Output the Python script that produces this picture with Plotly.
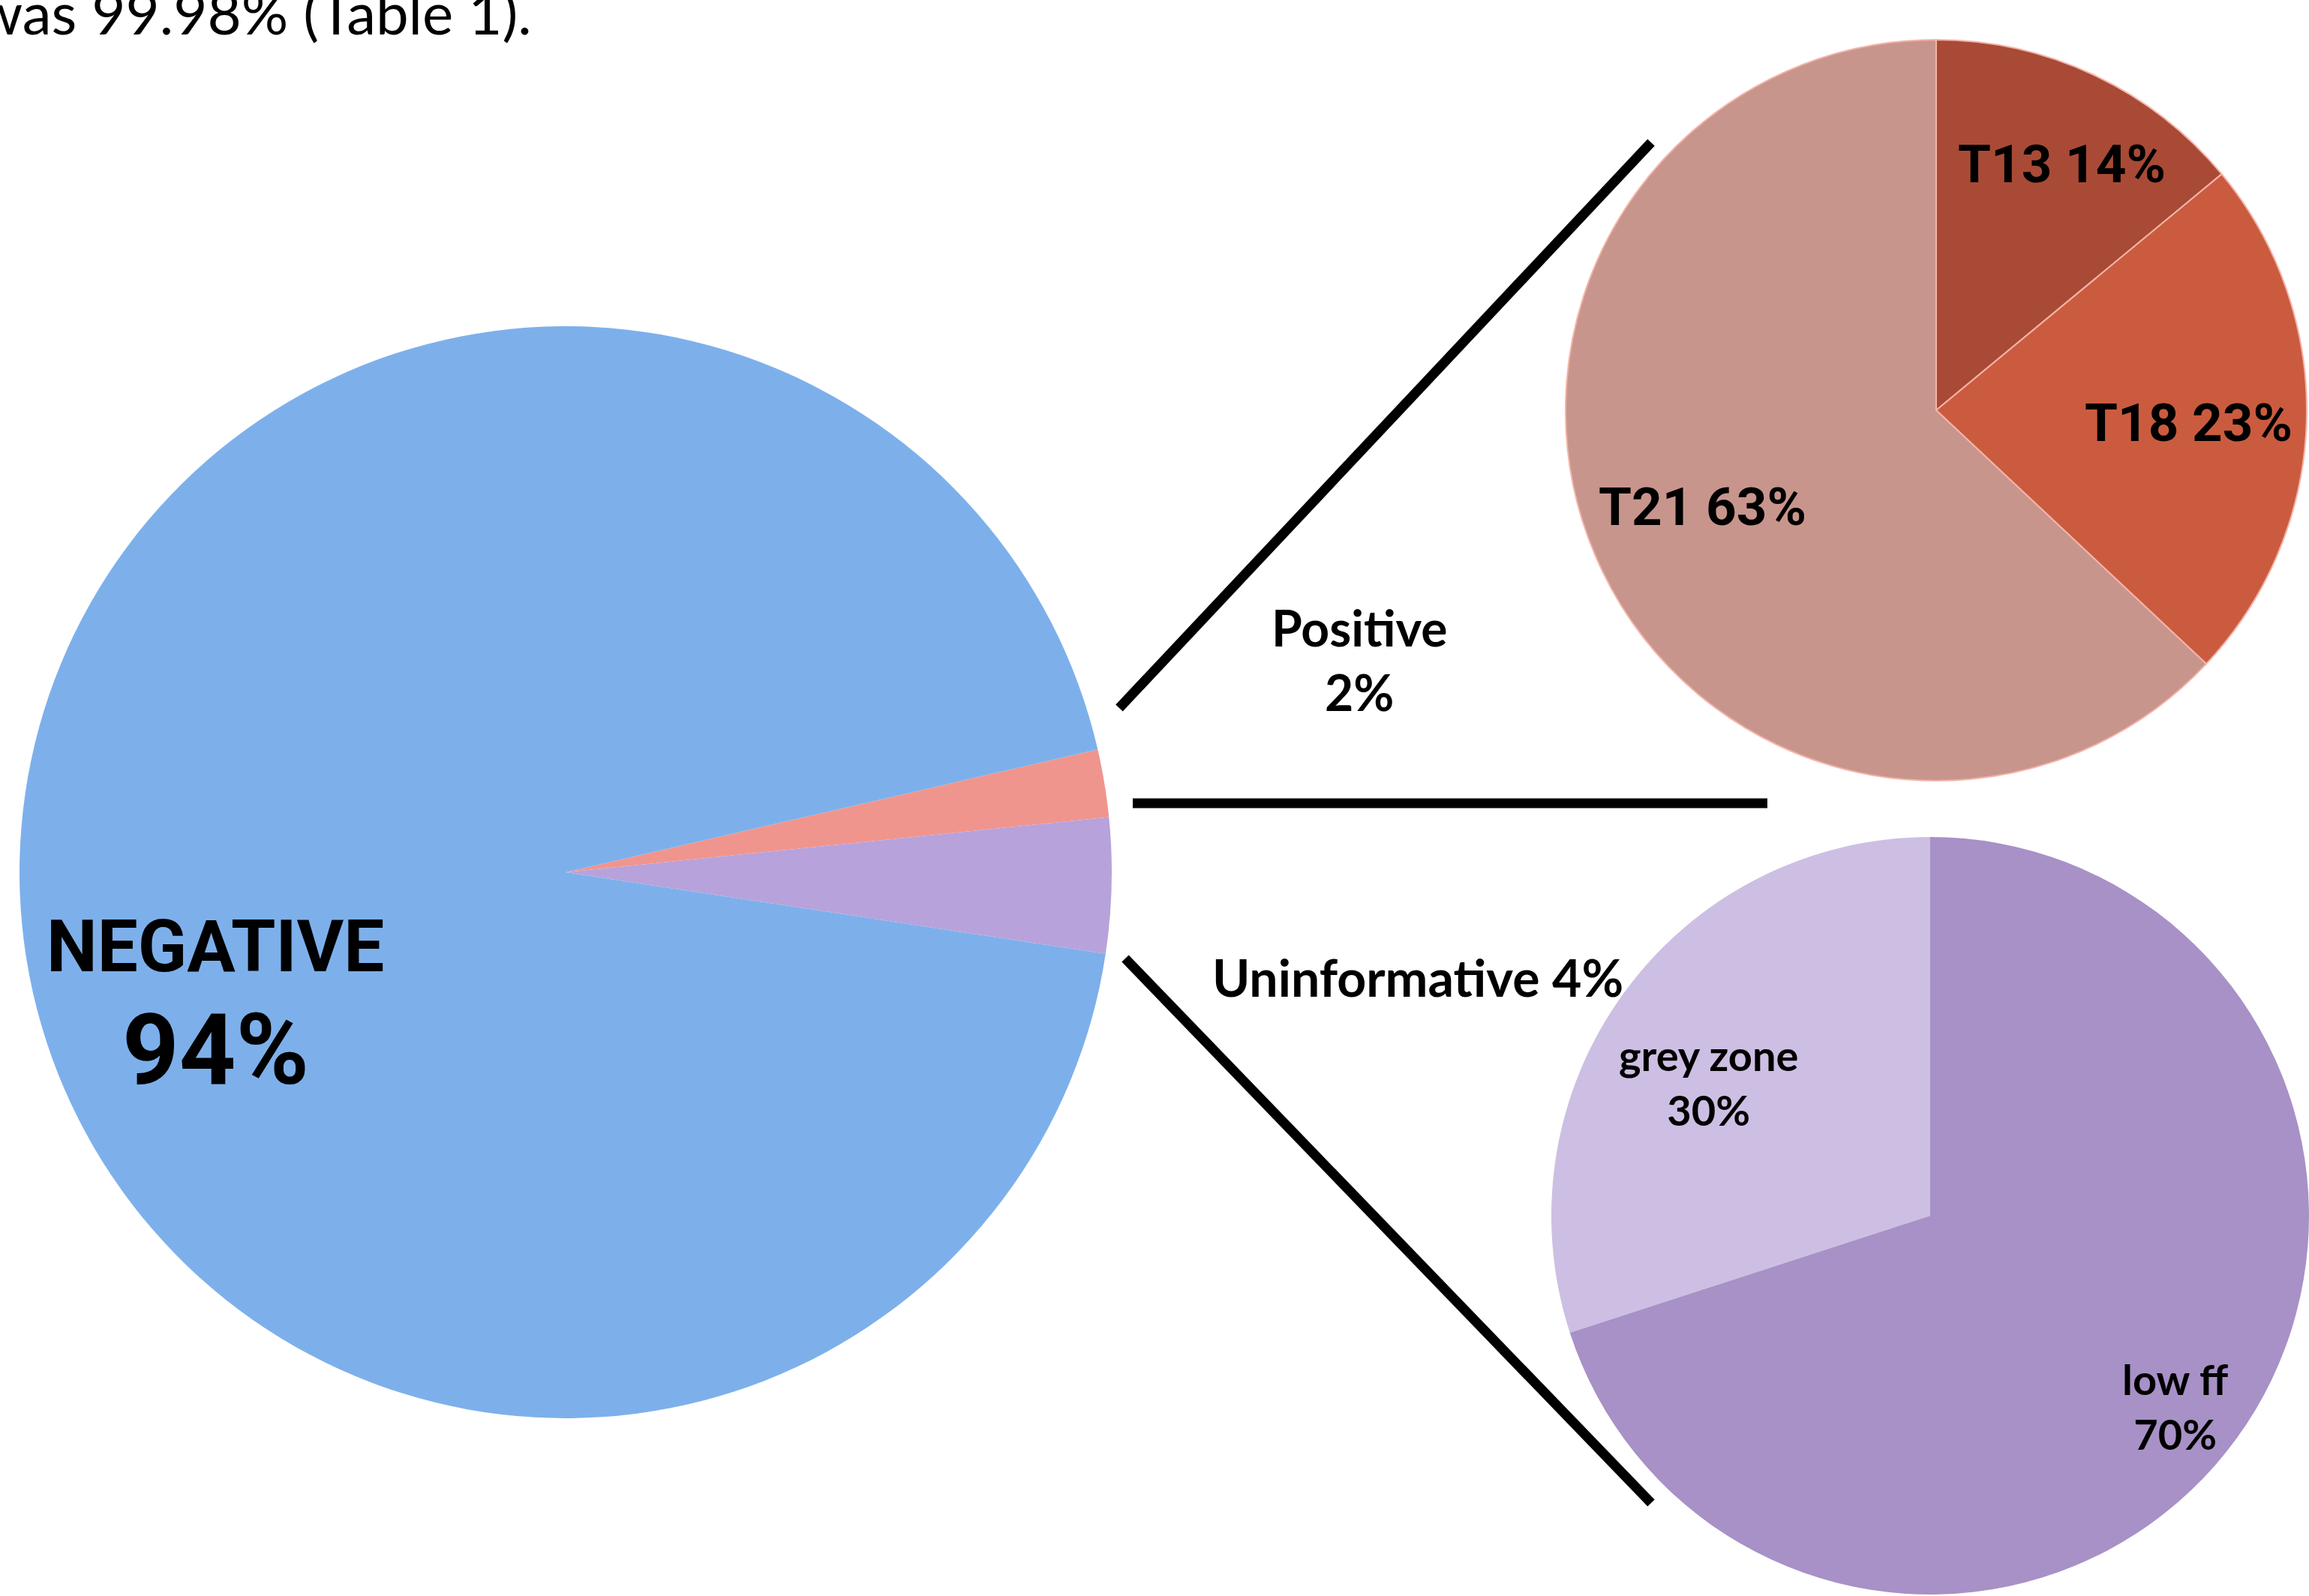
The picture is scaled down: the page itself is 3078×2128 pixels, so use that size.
import plotly.graph_objects as go

W, H = 3078, 2128

# Overall screening outcome
main_labels = ["Positive", "Uninformative", "NEGATIVE"]
main_values = [2, 4, 94]
main_colors = ["#f0958e", "#b8a2db", "#7db0eb"]

# Breakdown of positive results
pos_labels = ["T13", "T18", "T21"]
pos_values = [14, 23, 63]
pos_colors = ["#a94a36", "#cb5b3f", "#c8958d"]

# Breakdown of uninformative results
uninf_labels = ["grey zone", "low ff"]
uninf_values = [30, 70]
uninf_colors = ["#cdbfe3", "#a791c6"]


def fx(x):
    return x / W


def fy(y):
    return 1 - y / H


def circle_domain(cx, cy, r):
    return dict(x=[fx(cx - r), fx(cx + r)], y=[fy(cy + r), fy(cy - r)])


fig = go.Figure()

fig.add_trace(go.Pie(
    labels=main_labels, values=main_values, sort=False,
    direction="clockwise", rotation=77,
    marker=dict(colors=main_colors, line=dict(width=0)),
    textinfo="none", hoverinfo="label+percent",
    domain=circle_domain(754, 1163, 728),
))

fig.add_trace(go.Pie(
    labels=pos_labels, values=pos_values, sort=False,
    direction="clockwise", rotation=0,
    marker=dict(colors=pos_colors, line=dict(width=2, color="#f3b4a8")),
    textinfo="none", hoverinfo="label+percent",
    domain=circle_domain(2581, 547, 494),
))

# grey zone sits just left of 12 o'clock, low ff takes the rest
grey_share = uninf_values[0] / sum(uninf_values)
fig.add_trace(go.Pie(
    labels=uninf_labels, values=uninf_values, sort=False,
    direction="clockwise", rotation=-360 * grey_share,
    marker=dict(colors=uninf_colors, line=dict(width=0)),
    textinfo="none", hoverinfo="label+percent",
    domain=circle_domain(2573, 1621, 505),
))

# Connector lines between the overview pie and the breakdowns
connectors = [
    ((1492, 944), (2201, 190)),
    ((1510, 1071), (2356, 1071)),
    ((1500, 1278), (2201, 2004)),
]
shapes = [
    dict(type="line", xref="paper", yref="paper",
         x0=fx(a[0]), y0=fy(a[1]), x1=fx(b[0]), y1=fy(b[1]),
         line=dict(color="black", width=13))
    for a, b in connectors
]

geo = "Roboto, Arial, sans-serif"
hum = "Lato, 'Open Sans', sans-serif"


def note(text, x, y, size, family, anchor="center"):
    return dict(text=text, x=fx(x), y=fy(y), xref="paper", yref="paper",
                showarrow=False, xanchor=anchor, yanchor="middle",
                align="center",
                font=dict(size=size, family=family, color="black"))


def bold(s):
    return f"<b>{s}</b>"


annotations = [
    note("was 99.98% (Table 1).", 711, 16, 78, hum, anchor="right"),
    note(bold(main_labels[2]), 287, 1262, 96, geo),
    note(bold(f"{main_values[2]}%"), 287, 1400, 132, geo),
    note(bold(f"{main_labels[0]}<br>{main_values[0]}%"), 1812, 880, 66, hum),
    note(bold(f"{main_labels[1]} {main_values[1]}%"), 1890, 1302, 68, hum),
    note(bold(f"{pos_labels[0]} {pos_values[0]}%"), 2748, 218, 71, geo),
    note(bold(f"{pos_labels[1]} {pos_values[1]}%"), 2917, 563, 71, geo),
    note(bold(f"{pos_labels[2]} {pos_values[2]}%"), 2269, 675, 71, geo),
    note(bold(f"{uninf_labels[0]}<br>{uninf_values[0]}%"), 2277, 1443, 56, hum),
    note(bold(f"{uninf_labels[1]}<br>{uninf_values[1]}%"), 2899, 1875, 56, hum),
]

fig.update_layout(
    width=W, height=H,
    margin=dict(l=0, r=0, t=0, b=0),
    paper_bgcolor="white", plot_bgcolor="white",
    showlegend=False,
    shapes=shapes,
    annotations=annotations,
)

fig.write_html("out.html")
